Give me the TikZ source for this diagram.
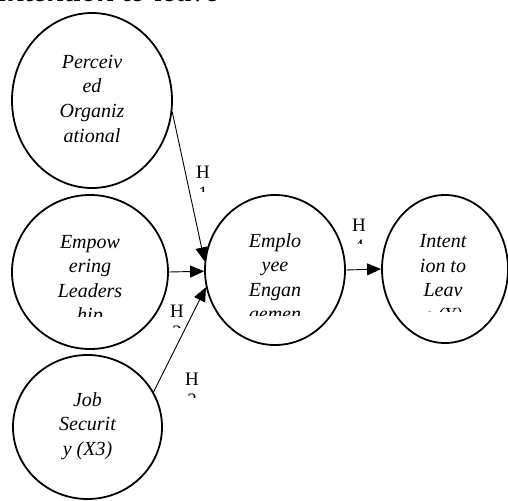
\documentclass[tikz,border=0pt]{standalone}
\usepackage{fontspec}
\setmainfont{Liberation Serif}
\usetikzlibrary{shapes.geometric,arrows.meta}
\tikzset{
  construct/.style={draw, ellipse, line width=1.8pt, inner sep=0pt},
  construct text/.style={font=\fontsize{20}{24.5}\selectfont\itshape, align=center, anchor=base, inner sep=0pt},
  hyp/.style={font=\fontsize{19}{21}\selectfont, align=center, anchor=base, inner sep=0pt},
  path line/.style={line width=0.9pt, -{Triangle[length=14pt,width=12pt]}},
}
\begin{document}
\begin{tikzpicture}[x=1pt,y=-1pt]
\useasboundingbox (0,0) rectangle (508,500);
\begin{scope}
\clip (0,0) rectangle (508,500);
\node[font=\fontsize{31}{31}\selectfont\bfseries\itshape, anchor=base east, inner sep=0pt] (title) at (220,2) {Intention to leave};
% constructs
\node[construct, minimum width=160pt, minimum height=175pt] (perc) at (92,100.5) {};
\node[construct, minimum width=156pt, minimum height=154pt] (lead) at (90,272) {};
\node[construct, minimum width=149pt, minimum height=144pt] (job) at (87.5,427) {};
\node[construct, minimum width=140pt, minimum height=150pt] (eng) at (275,270) {};
\node[construct, minimum width=126pt, minimum height=148pt] (int) at (445,269) {};
\node[construct text] (perc text) at (92,142) {Perceiv\\ed\\Organiz\\ational};
\begin{scope}
\clip (12,190) rectangle (168,316);
\node[construct text] (lead text) at (90,321.5) {Empow\\ering\\Leaders\\hip};
\end{scope}
\node[construct text] (job text) at (87.5,455) {Job\\Securit\\y (X3)};
\begin{scope}
\clip (205,190) rectangle (345,315);
\node[construct text] (eng text) at (275,320.5) {Emplo\\yee\\Engan\\gemen};
\end{scope}
\begin{scope}
\clip (382,190) rectangle (508,311);
\node[construct text] (int text) at (443,321) {Intent\\ion to\\Leav\\e (Y)};
\end{scope}
% paths
\draw[path line] (perc.-8) -- (eng.173);
\draw[path line] (lead.east) -- (eng.181);
\draw[path line] (job.28) -- (eng.194);
\draw[path line] (eng.east) -- (int.west);
% hypotheses
\begin{scope}
\clip (190,150) rectangle (220,191);
\node[hyp] (h1) at (203,199) {H\\1};
\end{scope}
\begin{scope}
\clip (165,290) rectangle (190,327);
\node[hyp] (h2) at (177,338) {H\\2};
\end{scope}
\begin{scope}
\clip (180,360) rectangle (205,397);
\node[hyp] (h3) at (192,406) {H\\3};
\end{scope}
\begin{scope}
\clip (347,200) rectangle (372,243);
\node[hyp] (h4) at (359,252) {H\\4};
\end{scope}
\end{scope}
\end{tikzpicture}
\end{document}
